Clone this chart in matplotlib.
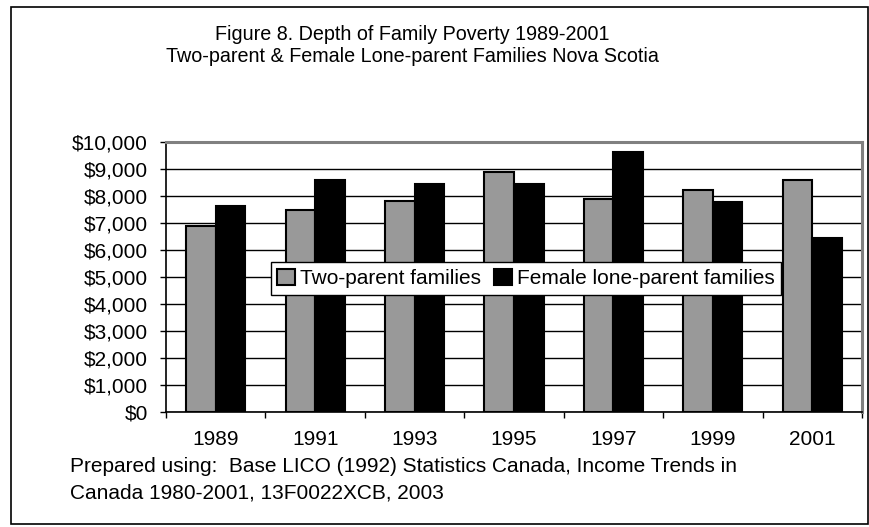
import numpy as np
import matplotlib
matplotlib.use("Agg")
import matplotlib.pyplot as plt
from matplotlib.patches import Rectangle
from matplotlib.ticker import FuncFormatter, MultipleLocator

plt.rcParams['font.family'] = ['Liberation Sans', 'DejaVu Sans']

years = ["1989", "1991", "1993", "1995", "1997", "1999", "2001"]
two_parent = [6900, 7500, 7800, 8880, 7880, 8230, 8590]
female_lone = [7620, 8610, 8440, 8460, 9620, 7790, 6440]
series_names = ["Two-parent families", "Female lone-parent families"]

fs = 15

fig = plt.figure(figsize=(8.7, 5.27), dpi=100)

# outer chart border
fig.patches.append(Rectangle((0.0126, 0.006), 0.985, 0.981, transform=fig.transFigure,
                             fill=False, edgecolor='black', linewidth=1.2))

fig.text(0.474, 0.935, "Figure 8. Depth of Family Poverty 1989-2001",
         ha='center', va='center', fontsize=14.2)
fig.text(0.474, 0.892, "Two-parent & Female Lone-parent Families Nova Scotia",
         ha='center', va='center', fontsize=14.2)

ax = fig.add_axes([166 / 870, 1 - 412 / 527, 696 / 870, 270 / 527])
x = np.arange(len(years))
w = 0.297
ax.bar(x - w / 2, two_parent, w, color='#999999', edgecolor='black', linewidth=1.5,
       label=series_names[0], zorder=3)
ax.bar(x + w / 2, female_lone, w, color='black', edgecolor='black', linewidth=1.5,
       label=series_names[1], zorder=3)

ax.set_ylim(0, 10000)
ax.set_xlim(-0.5, len(years) - 0.5)
ax.yaxis.set_major_locator(MultipleLocator(1000))
ax.yaxis.set_major_formatter(FuncFormatter(lambda v, p: f"${v:,.0f}"))
ax.yaxis.grid(True, color='black', linewidth=1.0, zorder=0)
ax.set_axisbelow(True)

ax.set_xticks(np.arange(-0.5, len(years), 1.0))
ax.set_xticklabels([])
ax.set_xticks(x, minor=True)
ax.set_xticklabels(years, minor=True)
ax.tick_params(axis='x', which='minor', length=0, pad=13, labelsize=fs)
ax.tick_params(axis='x', which='major', length=4.5, direction='out', width=1)
ax.tick_params(axis='y', length=4.5, direction='out', width=1, labelsize=fs, pad=8.5)

for s in ['left', 'bottom']:
    ax.spines[s].set_color('black')
    ax.spines[s].set_linewidth(1.2)
for s in ['top', 'right']:
    ax.spines[s].set_color('#808080')
    ax.spines[s].set_linewidth(2.2)

leg = ax.legend(loc='center', bbox_to_anchor=(0.517, 0.494), ncol=2, fontsize=fs,
                frameon=True, fancybox=False, shadow=False, borderpad=0.32,
                handlelength=0.85, handleheight=0.85, handletextpad=0.24,
                columnspacing=0.62, borderaxespad=0)
leg.get_frame().set_edgecolor('black')
leg.get_frame().set_linewidth(1.0)
leg.get_frame().set_alpha(1)

fig.text(0.0805, 0.114, "Prepared using:  Base LICO (1992) Statistics Canada, Income Trends in",
         ha='left', va='center', fontsize=fs)
fig.text(0.0805, 0.064, "Canada 1980-2001, 13F0022XCB, 2003",
         ha='left', va='center', fontsize=fs)

fig.savefig("out.png", dpi=100)
